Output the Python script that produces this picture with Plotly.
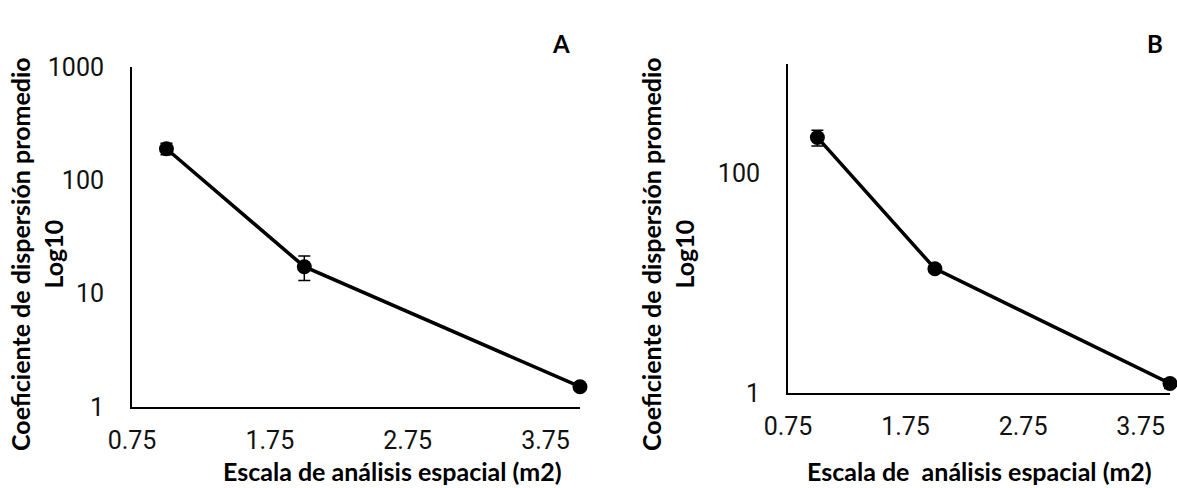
import plotly.graph_objects as go

# ---- data ----
x_scale = [1, 2, 4]
a_values = [190, 17.3, 1.51]
a_errors = [22, 4.2, 0.08]
b_values = [214, 13.6, 1.22]
b_errors = [35, 1.0, 0.12]
x_ticks = [0.75, 1.75, 2.75, 3.75]
a_yticks = [1, 10, 100, 1000]
b_yticks = [1, 100]
x_title_a = "Escala de análisis espacial (m2)"
x_title_b = "Escala de \u00a0análisis espacial (m2)"
y_title = "Coeficiente de dispersión promedio<br>Log10"

W, H = 1177, 488

def fx(px):
    return px / W

def fy(py):
    return (H - py) / H

fig = go.Figure()

common_line = dict(color="black", width=3.5)
common_marker = dict(color="black", size=15, symbol="circle")

fig.add_trace(go.Scatter(
    x=x_scale, y=a_values, mode="lines+markers",
    line=common_line, marker=common_marker,
    error_y=dict(type="data", array=a_errors, color="black", thickness=1.5, width=6),
    xaxis="x", yaxis="y", showlegend=False, cliponaxis=False))

fig.add_trace(go.Scatter(
    x=x_scale, y=b_values, mode="lines+markers",
    line=common_line, marker=common_marker,
    error_y=dict(type="data", array=b_errors, color="black", thickness=1.5, width=6),
    xaxis="x2", yaxis="y2", showlegend=False, cliponaxis=False))

tick_font = dict(family="Roboto", size=25, color="#111111")
title_font = dict(family="Lato", size=25, color="black")

xcommon = dict(range=[0.75, 4.0], tickvals=x_ticks, ticktext=[f"{v:.2f}" for v in x_ticks],
               showline=True, linecolor="black", linewidth=2, showgrid=False, zeroline=False,
               ticks="outside", ticklen=10, tickcolor="rgba(0,0,0,0)", tickfont=tick_font,
               automargin=False)
ycommon = dict(type="log", range=[0, 3], showline=True, linecolor="black", linewidth=2,
               showgrid=False, zeroline=False, ticks="outside", ticklen=21,
               tickcolor="rgba(0,0,0,0)", tickfont=tick_font, automargin=False)

fig.update_layout(
    width=W, height=H, margin=dict(l=0, r=0, t=0, b=0, autoexpand=False),
    paper_bgcolor="white", plot_bgcolor="white",
    xaxis=dict(domain=[fx(132), fx(580)], anchor="y", **xcommon),
    yaxis=dict(domain=[fy(407), fy(67)], anchor="x", tickvals=a_yticks,
               ticktext=[str(v) for v in a_yticks], **ycommon),
    xaxis2=dict(domain=[fx(788), fx(1170)], anchor="y2", **xcommon),
    yaxis2=dict(domain=[fy(393), fy(64)], anchor="x2", tickvals=b_yticks,
                ticktext=[str(v) for v in b_yticks], **ycommon),
)

ann = [
    dict(text="<b>" + x_title_a + "</b>", x=fx(392), y=fy(471), xref="paper", yref="paper",
         showarrow=False, font=title_font, xanchor="center", yanchor="middle"),
    dict(text="<b>" + x_title_b + "</b>", x=fx(979), y=fy(471), xref="paper", yref="paper",
         showarrow=False, font=title_font, xanchor="center", yanchor="middle"),
    dict(text="<b>" + y_title + "</b>", x=fx(37), y=fy(254), xref="paper", yref="paper",
         showarrow=False, font=title_font, textangle=-90, xanchor="center", yanchor="middle"),
    dict(text="<b>" + y_title + "</b>", x=fx(668), y=fy(254), xref="paper", yref="paper",
         showarrow=False, font=title_font, textangle=-90, xanchor="center", yanchor="middle"),
    dict(text="<b>A</b>", x=fx(561), y=fy(27), xref="paper", yref="paper",
         showarrow=False, font=dict(family="Lato", size=24, color="black")),
    dict(text="<b>B</b>", x=fx(1165), y=fy(27), xref="paper", yref="paper",
         showarrow=False, font=dict(family="Lato", size=24, color="black")),
]
fig.update_layout(annotations=ann)

fig.write_html("out.html")
